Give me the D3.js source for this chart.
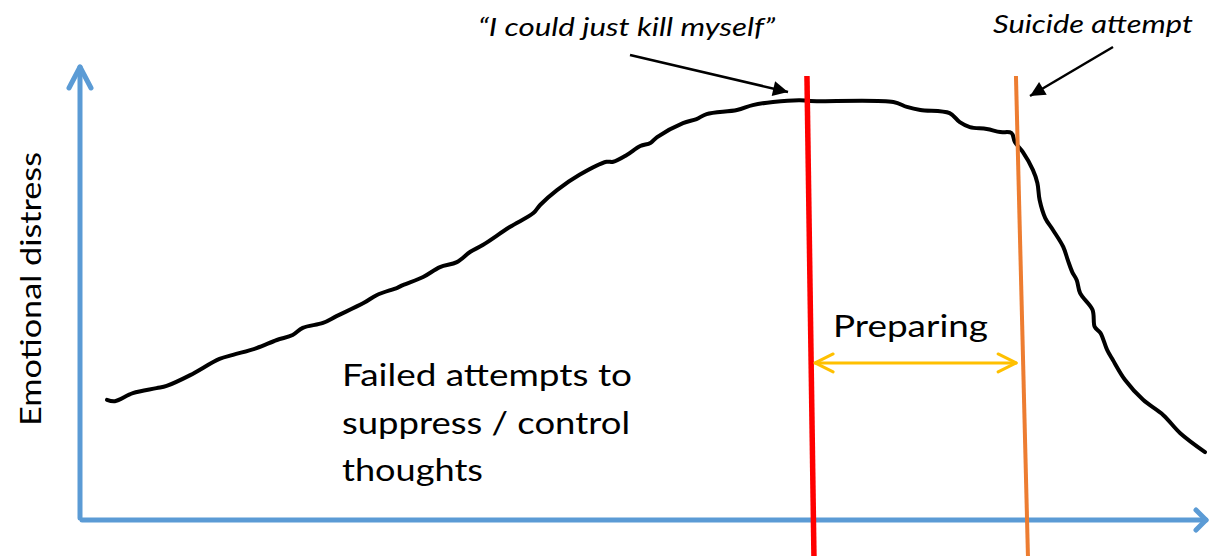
<!DOCTYPE html>
<html>
<head>
<meta charset="utf-8">
<script src="https://cdn.jsdelivr.net/npm/d3@7"></script>
<style>
  body { margin: 0; background: #fff; }
  text { font-family: Lato, "Open Sans", sans-serif; fill: #000; }
</style>
</head>
<body>
<svg width="1209" height="556"></svg>
<script>
// time (0-100 along x axis) and emotional distress (0-100 along y axis)
var times = [2.4, 3.1, 4.7, 6.8, 7.7, 9.8, 12.4, 13.6, 15.7, 17.5, 18.9, 19.8, 21.6, 22.8, 25.2, 26.4,
  28.2, 28.7, 30.5, 32.0, 33.5, 34.7, 35.8, 38.2, 40.3, 40.9, 42.4, 44.4, 46.8, 47.4, 48.6, 49.8,
  50.7, 51.3, 53.6, 54.8, 55.7, 58.4, 59.8, 61.6, 64.0, 64.9, 72.3, 73.5, 74.7, 77.3, 78.2, 79.1,
  80.6, 81.8, 82.8, 83.1, 83.8, 84.7, 85.1, 85.3, 85.8, 86.5, 87.4, 87.8, 88.2, 88.6, 88.9, 90.0,
  90.2, 90.7, 91.3, 91.8, 92.9, 94.5, 96.3, 97.8, 100];
var distress = [26.7, 26.4, 28.2, 29.3, 29.8, 32.2, 35.8, 36.7, 38.2, 40.0, 41.1, 42.7, 43.8, 45.3, 48.2, 50.0,
  51.6, 52.2, 54.0, 56.2, 57.3, 59.6, 61.1, 65.1, 68.2, 70.0, 73.3, 76.7, 79.6, 79.6, 81.1, 83.1,
  83.8, 85.1, 88.2, 89.1, 90.2, 91.1, 92.2, 92.9, 93.3, 93.1, 92.9, 91.8, 91.1, 90.4, 88.4, 87.3,
  86.9, 86.2, 86.0, 84.0, 81.8, 77.8, 74.9, 71.1, 67.1, 64.4, 60.7, 57.8, 55.1, 53.3, 50.4, 46.7,
  42.9, 41.6, 37.8, 35.6, 31.1, 26.7, 23.3, 19.3, 15.1];

// the two moments marked on the chart (time where each vertical line meets the curve)
var eventNames = ["\u201cI could just kill myself\u201d", "Suicide attempt"];
var eventTimes = [64.65, 83.35];
var eventColors = ["#ff0000", "#ed7d31"];

var yLabel = "Emotional distress";
var phaseLabel = "Preparing";
var noteLines = ["Failed attempts to", "suppress / control", "thoughts"];

var svg = d3.select("svg"),
    width = +svg.attr("width"),
    height = +svg.attr("height");

var x = d3.scaleLinear().domain([0, 100]).range([80, 1205]),
    y = d3.scaleLinear().domain([0, 100]).range([520, 70]);

var blue = "#5b9bd5";

// axes with open arrow heads
var axes = svg.append("g")
    .attr("fill", "none")
    .attr("stroke", blue)
    .attr("stroke-width", 5)
    .attr("stroke-linecap", "round")
    .attr("stroke-linejoin", "round");

axes.append("line")
    .attr("x1", x(0)).attr("y1", y(0) - 2)
    .attr("x2", x(0)).attr("y2", 67);
axes.append("path")
    .attr("d", "M" + (x(0) - 11) + ",88L" + x(0) + ",67L" + (x(0) + 11) + ",88");

axes.append("line")
    .attr("x1", x(0) + 2).attr("y1", y(0))
    .attr("x2", width - 3).attr("y2", y(0));
axes.append("path")
    .attr("d", "M" + (width - 13) + "," + (y(0) - 10) + "L" + (width - 3) + "," + y(0) +
               "L" + (width - 13) + "," + (y(0) + 10));

// y axis label
svg.append("text")
    .attr("transform", "translate(41," + 289 + ") rotate(-90)")
    .attr("text-anchor", "middle")
    .attr("font-size", 29)
    .attr("textLength", 274)
    .attr("lengthAdjust", "spacingAndGlyphs")
    .text(yLabel);

// distress curve
var pts = times.map(function(t, i) { return [t, distress[i]]; });

var line = d3.line()
    .x(function(d) { return x(d[0]); })
    .y(function(d) { return y(d[1]); })
    .curve(d3.curveCatmullRom.alpha(0.5));

svg.append("path")
    .datum(pts)
    .attr("fill", "none")
    .attr("stroke", "#000")
    .attr("stroke-width", 4)
    .attr("stroke-linejoin", "round")
    .attr("stroke-linecap", "round")
    .attr("d", line);

// slightly leaning vertical event lines
var lean = [7, 12], widths = [5.5, 4];
function eventX(i, py) {
  // x of event line i at pixel height py (each line passes through its curve point)
  var t = eventTimes[i];
  var k = d3.bisectLeft(times, t);
  var d0 = distress[k - 1] + (distress[k] - distress[k - 1]) * (t - times[k - 1]) / (times[k] - times[k - 1]);
  return x(t) + lean[i] * (py - y(d0)) / 480;
}

eventTimes.forEach(function(t, i) {
  svg.append("line")
      .attr("x1", eventX(i, 76)).attr("y1", 76)
      .attr("x2", eventX(i, height)).attr("y2", height)
      .attr("stroke", eventColors[i])
      .attr("stroke-width", widths[i]);
});

// preparing double arrow
var py = y(34.9);
var ax0 = eventX(0, py) + 4, ax1 = eventX(1, py) - 7;
var yellow = svg.append("g")
    .attr("fill", "none")
    .attr("stroke", "#ffc000")
    .attr("stroke-width", 3)
    .attr("stroke-linecap", "round")
    .attr("stroke-linejoin", "round");
yellow.append("line")
    .attr("x1", ax0).attr("y1", py).attr("x2", ax1).attr("y2", py);
yellow.append("path")
    .attr("d", "M" + (ax0 + 18) + "," + (py - 9) + "L" + ax0 + "," + py + "L" + (ax0 + 18) + "," + (py + 9));
yellow.append("path")
    .attr("d", "M" + (ax1 - 18) + "," + (py - 9) + "L" + ax1 + "," + py + "L" + (ax1 - 18) + "," + (py + 9));

svg.append("text")
    .attr("x", 833).attr("y", 337)
    .attr("font-size", 31)
    .attr("textLength", 155)
    .attr("lengthAdjust", "spacingAndGlyphs")
    .text(phaseLabel);

// note text
var noteLens = [290, 288, 141];
noteLines.forEach(function(s, i) {
  svg.append("text")
      .attr("x", 342).attr("y", 386 + i * 47.5)
      .attr("font-size", 30)
      .attr("textLength", noteLens[i])
      .attr("lengthAdjust", "spacingAndGlyphs")
      .text(s);
});

// callouts
svg.append("defs").append("marker")
    .attr("id", "head")
    .attr("viewBox", "0 0 10 10")
    .attr("refX", 10).attr("refY", 5)
    .attr("markerWidth", 7.5).attr("markerHeight", 6)
    .attr("markerUnits", "strokeWidth")
    .attr("orient", "auto")
  .append("path")
    .attr("d", "M0,0L10,5L0,10Z")
    .attr("fill", "#000");

var callouts = [
  {text: eventNames[0], tx: 478, ty: 36, len: 297, from: [630, 55], to: [788, 92]},
  {text: eventNames[1], tx: 993, ty: 33, len: 200, from: [1113, 47], to: [1030, 96]}
];

callouts.forEach(function(c) {
  svg.append("text")
      .attr("x", c.tx).attr("y", c.ty)
      .attr("font-size", 26)
      .attr("font-style", "italic")
      .attr("textLength", c.len)
      .attr("lengthAdjust", "spacingAndGlyphs")
      .text(c.text);
  svg.append("line")
      .attr("x1", c.from[0]).attr("y1", c.from[1])
      .attr("x2", c.to[0]).attr("y2", c.to[1])
      .attr("stroke", "#000")
      .attr("stroke-width", 2.5)
      .attr("marker-end", "url(#head)");
});
</script>
</body>
</html>
